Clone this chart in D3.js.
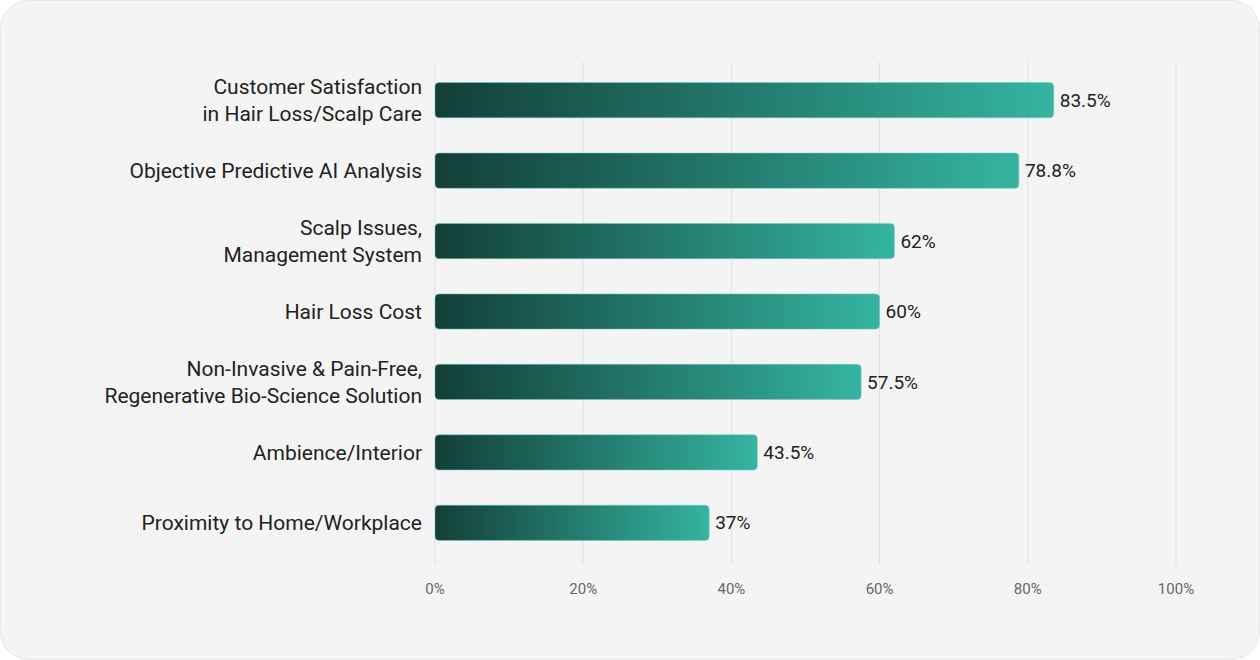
<!DOCTYPE html>
<html><head><meta charset="utf-8">
<script src="https://cdn.jsdelivr.net/npm/d3@7"></script>
<style>body{margin:0;background:#fff;font-family:Roboto,sans-serif}</style>
</head><body><svg id="chart" width="1260" height="660"></svg>
<script>
const categories = [
  ["Customer Satisfaction", "in Hair Loss/Scalp Care"],
  ["Objective Predictive AI Analysis"],
  ["Scalp Issues,", "Management System"],
  ["Hair Loss Cost"],
  ["Non-Invasive & Pain-Free,", "Regenerative Bio-Science Solution"],
  ["Ambience/Interior"],
  ["Proximity to Home/Workplace"]
];
const values = [83.5, 78.8, 62, 60, 57.5, 43.5, 37];
const ticks = [0, 20, 40, 60, 80, 100];

const svg = d3.select("#chart");
svg.append("rect").attr("x", 0.5).attr("y", 0.5).attr("width", 1259).attr("height", 659)
  .attr("rx", 28).attr("fill", "#f4f4f4").attr("stroke", "#e6e6e6");

const defs = svg.append("defs");
const grad = defs.append("linearGradient").attr("id", "barGrad");
grad.append("stop").attr("offset", "0%").attr("stop-color", "#123f38");
grad.append("stop").attr("offset", "100%").attr("stop-color", "#34b5a1");

const x = d3.scaleLinear().domain([0, 100]).range([435, 1176]);
const y = d3.scaleBand().domain(d3.range(values.length)).range([65, 558]).paddingInner(0.5).paddingOuter(0.25);

svg.append("g").selectAll("line").data(ticks).join("line")
  .attr("x1", d => x(d)).attr("x2", d => x(d)).attr("y1", 62).attr("y2", 565)
  .attr("stroke", "#dfe1e6").attr("stroke-width", 1);

svg.append("g").selectAll("text").data(ticks).join("text")
  .attr("x", d => x(d)).attr("y", 594).attr("text-anchor", "middle")
  .attr("font-size", 15).attr("fill", "#666").text(d => d + "%");

svg.append("g").selectAll("rect").data(values).join("rect")
  .attr("x", x(0)).attr("y", (d, i) => y(i)).attr("width", d => x(d) - x(0))
  .attr("height", y.bandwidth()).attr("rx", 4).attr("fill", "url(#barGrad)")
  .attr("stroke", "#6fcfbf").attr("stroke-opacity", 0.5);

svg.append("g").selectAll("text").data(values).join("text")
  .attr("x", d => x(d) + 6).attr("y", (d, i) => y(i) + y.bandwidth() / 2)
  .attr("dy", "0.35em").attr("font-size", 19).attr("fill", "#222").text(d => d + "%");

const lbl = svg.append("g").selectAll("text").data(categories).join("text")
  .attr("x", 422).attr("text-anchor", "end").attr("font-size", 21).attr("fill", "#222")
  .attr("y", (d, i) => y(i) + y.bandwidth() / 2);
lbl.selectAll("tspan").data(d => d.map((t, j) => ({ t, j, n: d.length }))).join("tspan")
  .attr("x", 422).attr("dy", k => k.j === 0 ? (0.35 - (k.n - 1) * 0.65) + "em" : "1.3em")
  .text(k => k.t);
</script></body></html>
